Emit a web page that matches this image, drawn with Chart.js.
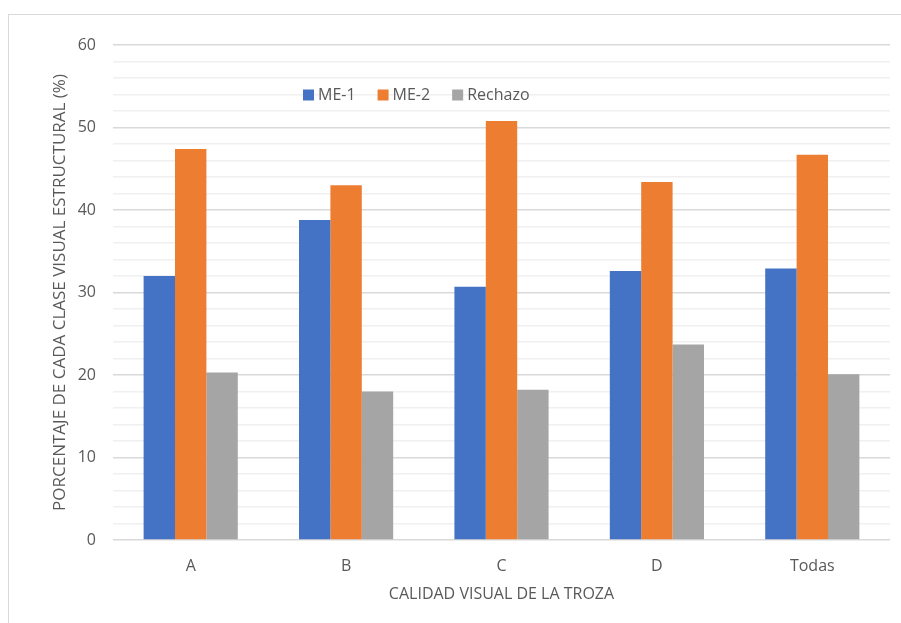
<!DOCTYPE html>
<html>
<head>
<meta charset="utf-8">
<script src="https://cdn.jsdelivr.net/npm/chart.js@4/dist/chart.umd.min.js"></script>
<style>
  html, body { margin: 0; padding: 0; background: #ffffff; overflow: hidden; }
  #wrap { position: relative; width: 901px; height: 623px; }
  #frame { position: absolute; left: 8px; top: 14px; width: 1000px; height: 1000px;
           border: 1px solid #d9d9d9; box-sizing: border-box; }
  #chart { position: absolute; left: 0; top: 0; }
</style>
</head>
<body>
<div id="wrap">
  <div id="frame"></div>
  <canvas id="chart" width="901" height="623"></canvas>
</div>
<script>
// Calidad visual de la troza (categorías del eje X)
const categories = ['A', 'B', 'C', 'D', 'Todas'];
// Porcentaje de cada clase visual estructural
const me1 = [32.0, 38.8, 30.7, 32.6, 32.9];
const me2 = [47.4, 43.0, 50.8, 43.4, 46.7];
const rechazo = [20.3, 18.0, 18.2, 23.7, 20.1];
const seriesNames = ['ME-1', 'ME-2', 'Rechazo'];
const yTicks = [0, 10, 20, 30, 40, 50, 60];

const FONT = '"Open Sans", "Liberation Sans", sans-serif';
const TEXT = '#595959';

// Legend drawn inside the plot area, above the bars
const innerLegend = {
  id: 'innerLegend',
  afterDraw(chart) {
    const { ctx, chartArea } = chart;
    ctx.save();
    ctx.font = '16px ' + FONT;
    ctx.textBaseline = 'middle';
    ctx.textAlign = 'left';
    let x = chartArea.left + 190;
    const y = chartArea.top + 50;
    chart.data.datasets.forEach(ds => {
      ctx.fillStyle = ds.backgroundColor;
      ctx.fillRect(x, y - 5.5, 11, 11);
      x += 15;
      ctx.fillStyle = TEXT;
      ctx.fillText(ds.label, x, y);
      x += ctx.measureText(ds.label).width + 22;
    });
    ctx.restore();
  }
};

new Chart(document.getElementById('chart'), {
  type: 'bar',
  data: {
    labels: categories,
    datasets: [
      { label: seriesNames[0], data: me1, backgroundColor: '#4472C4' },
      { label: seriesNames[1], data: me2, backgroundColor: '#ED7D31' },
      { label: seriesNames[2], data: rechazo, backgroundColor: '#A5A5A5' }
    ]
  },
  options: {
    responsive: false,
    animation: false,
    devicePixelRatio: 1,
    layout: { padding: { left: 0, right: 11, top: 45, bottom: 0 } },
    datasets: { bar: { categoryPercentage: 0.606, barPercentage: 1.0, borderWidth: 0 } },
    plugins: {
      legend: { display: false },
      tooltip: { enabled: false }
    },
    scales: {
      x: {
        grid: { display: false },
        border: { display: false },
        ticks: { color: TEXT, font: { family: FONT, size: 16 }, padding: 9 },
        title: {
          display: true, text: 'CALIDAD VISUAL DE LA TROZA', color: TEXT,
          font: { family: FONT, size: 16 }, padding: { top: 0, bottom: 19 }
        },
        afterFit(scale) { scale.height = 83; }
      },
      y: {
        min: 0, max: 60,
        grid: {
          drawTicks: false,
          color: c => (c.tick && c.tick.value % 10 === 0) ? '#d9d9d9' : '#f0f0f0',
          lineWidth: 1.5
        },
        border: { display: false },
        ticks: {
          stepSize: 2, autoSkip: false, color: TEXT, padding: 17,
          font: { family: FONT, size: 16 },
          callback: v => yTicks.includes(v) ? String(v) : ''
        },
        title: {
          display: true, text: 'PORCENTAJE DE CADA CLASE VISUAL ESTRUCTURAL (%)', color: TEXT,
          font: { family: FONT, size: 17 }, padding: { top: 50, bottom: 0 }
        },
        afterFit(scale) { scale.width = 113; }
      }
    }
  },
  plugins: [innerLegend]
});
</script>
</body>
</html>
